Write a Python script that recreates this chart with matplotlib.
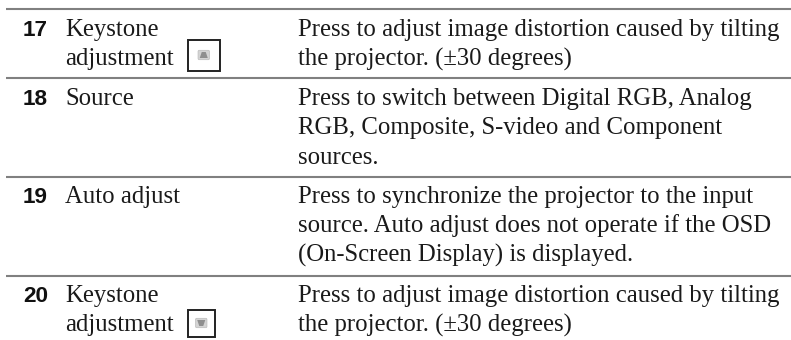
import matplotlib
matplotlib.use('Agg')
import matplotlib.pyplot as plt
from matplotlib.patches import Rectangle, Polygon, FancyBboxPatch

# table contents
numbers = ['17', '18', '19', '20']
names = [['Keystone', 'adjustment'], ['Source'], ['Auto adjust'], ['Keystone', 'adjustment']]
descriptions = [
    ['Press to adjust image distortion caused by tilting', 'the projector. (\u00b130 degrees)'],
    ['Press to switch between Digital RGB, Analog', 'RGB, Composite, S-video and Component', 'sources.'],
    ['Press to synchronize the projector to the input', 'source. Auto adjust does not operate if the OSD', '(On-Screen Display) is displayed.'],
    ['Press to adjust image distortion caused by tilting', 'the projector. (\u00b130 degrees)'],
]

row_top = [9, 78, 177, 276]
baseline = [36, 105, 203, 302]
line_gap = 29.3

fig = plt.figure(figsize=(7.91, 3.40), dpi=100)
ax = fig.add_axes([0, 0, 1, 1])
ax.set_xlim(0, 791)
ax.set_ylim(340, 0)
ax.axis('off')

# horizontal rules
for y in row_top:
    ax.plot([6, 791], [y, y], color='#808080', lw=1.5, solid_capstyle='butt')

serif = ['Liberation Serif', 'DejaVu Serif']
narrow = ['Liberation Sans Narrow', 'Liberation Sans']

for i in range(len(numbers)):
    y = baseline[i]
    ax.text(23, y, numbers[i], family=narrow, fontsize=16.2, fontweight='bold',
            color='#111111', ha='left', va='baseline')
    for j, s in enumerate(names[i]):
        ax.text(65, y + j * line_gap, s, family=serif, fontsize=17.8,
                color='#1a1a1a', ha='left', va='baseline')
    for j, s in enumerate(descriptions[i]):
        ax.text(298, y + j * line_gap, s, family=serif, fontsize=17.8,
                color='#1a1a1a', ha='left', va='baseline')


# small button icon next to "adjustment"; up=True points the arrow upward
def button(x0, x1, y0, y1, up):
    ax.add_patch(Rectangle((x0, y0), x1 - x0, y1 - y0, fc='white', ec='#222222', lw=1.4))
    cx = (x0 + x1) / 2
    cy = (y0 + y1) / 2
    ax.add_patch(FancyBboxPatch((cx - 4.5, cy - 3.5), 9, 7, boxstyle='round,pad=1.2',
                                fc='#d4d4d4', ec='#bbbbbb', lw=0.5))
    if up:
        pts = [(cx - 2, cy - 3), (cx + 2, cy - 3), (cx + 4, cy + 3), (cx - 4, cy + 3)]
    else:
        pts = [(cx - 4, cy - 3), (cx + 4, cy - 3), (cx + 2, cy + 3), (cx - 2, cy + 3)]
    ax.add_patch(Polygon(pts, fc='#8f8f8f', ec='none'))


button(188, 219.5, 39.5, 70.5, True)
button(188, 214.5, 309.5, 336.5, False)

fig.savefig('out.png', dpi=100)
